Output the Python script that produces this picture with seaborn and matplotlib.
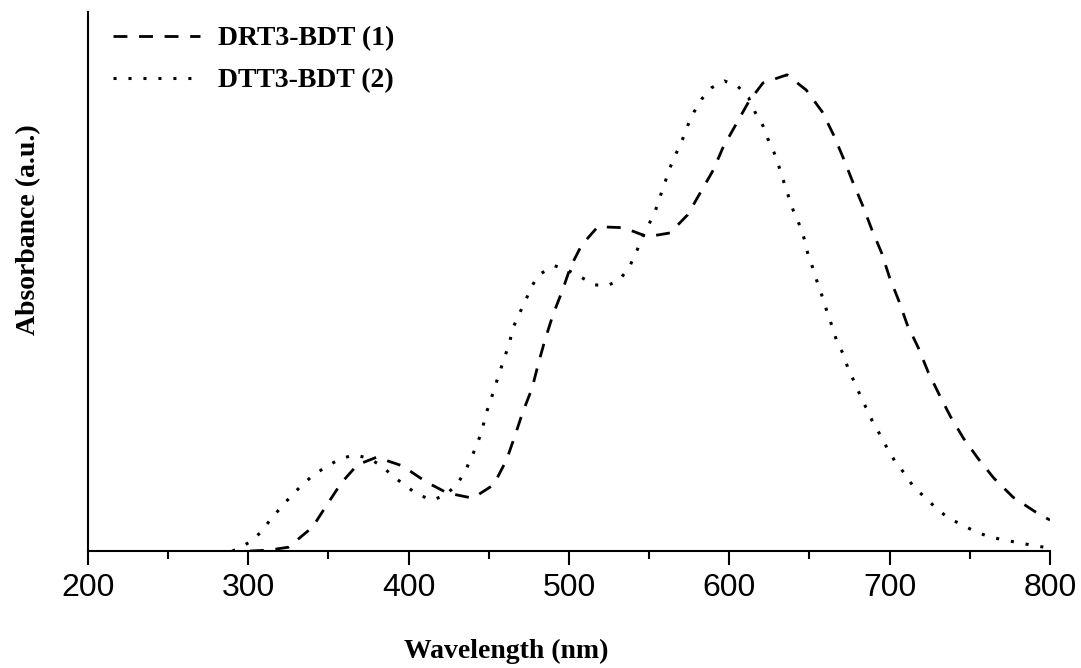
import numpy as np
import pandas as pd
import matplotlib
matplotlib.use("Agg")
import matplotlib.pyplot as plt
import seaborn as sns

# Wavelength (nm) and normalized absorbance
drt_nm = [301, 313, 325, 340, 349, 358, 368, 380, 396, 411, 424, 440, 453, 461,
          466, 471, 477, 481, 485, 490, 496, 501, 508, 518, 534, 549, 563, 574,
          590, 596, 604, 612, 621, 636, 648, 658, 665, 671, 677, 683, 689, 695,
          700, 706, 711, 718, 724, 731, 738, 746, 755, 765, 777, 791, 800]
drt_abs = [0.000, 0.002, 0.008, 0.050, 0.097, 0.143, 0.181, 0.197, 0.179, 0.145,
           0.122, 0.111, 0.139, 0.191, 0.239, 0.290, 0.342, 0.395, 0.443, 0.496,
           0.548, 0.597, 0.643, 0.681, 0.679, 0.660, 0.668, 0.706, 0.800, 0.847,
           0.895, 0.943, 0.983, 1.000, 0.968, 0.922, 0.874, 0.826, 0.775, 0.727,
           0.674, 0.626, 0.574, 0.523, 0.475, 0.426, 0.376, 0.328, 0.282, 0.237,
           0.195, 0.153, 0.113, 0.082, 0.065]

dtt_nm = [290, 293, 301, 308, 314, 320, 326, 333, 340, 348, 357, 366, 375, 383,
          390, 398, 406, 415, 423, 430, 435, 439, 443, 446, 448, 451, 454, 457,
          460, 463, 465, 469, 473, 477, 481, 491, 499, 507, 516, 524, 532, 538,
          542, 546, 550, 554, 563, 567, 571, 574, 578, 583, 589, 597, 605, 612,
          616, 621, 624, 628, 631, 634, 637, 640, 644, 647, 649, 652, 655, 658,
          661, 664, 667, 671, 674, 678, 682, 686, 690, 695, 699, 704, 710, 715,
          722, 729, 736, 745, 754, 763, 772, 781, 791, 800]
dtt_abs = [0.000, 0.004, 0.019, 0.040, 0.067, 0.090, 0.113, 0.137, 0.158, 0.176,
           0.193, 0.202, 0.195, 0.179, 0.158, 0.137, 0.118, 0.107, 0.118, 0.139,
           0.166, 0.195, 0.227, 0.256, 0.286, 0.315, 0.347, 0.378, 0.408, 0.439,
           0.468, 0.498, 0.527, 0.557, 0.580, 0.599, 0.590, 0.576, 0.559, 0.557,
           0.571, 0.599, 0.628, 0.660, 0.687, 0.716, 0.805, 0.836, 0.866, 0.893,
           0.922, 0.950, 0.973, 0.987, 0.977, 0.952, 0.922, 0.893, 0.866, 0.836,
           0.807, 0.775, 0.744, 0.714, 0.683, 0.653, 0.624, 0.595, 0.563, 0.534,
           0.502, 0.473, 0.441, 0.414, 0.384, 0.355, 0.324, 0.296, 0.267, 0.239,
           0.212, 0.185, 0.160, 0.134, 0.113, 0.090, 0.071, 0.055, 0.040, 0.029,
           0.023, 0.017, 0.011, 0.006]

series_labels = ["DRT3-BDT (1)", "DTT3-BDT (2)"]
x_ticks = [200, 300, 400, 500, 600, 700, 800]

df = pd.concat([
    pd.DataFrame({"nm": drt_nm, "abs": drt_abs, "series": series_labels[0]}),
    pd.DataFrame({"nm": dtt_nm, "abs": dtt_abs, "series": series_labels[1]}),
])

sns.set_style("ticks", rc={"text.color": "black", "axes.labelcolor": "black",
                           "xtick.color": "black", "ytick.color": "black",
                           "axes.edgecolor": "black"})
plt.rcParams["font.family"] = ["Liberation Sans", "DejaVu Sans"]

fig = plt.figure(figsize=(10.81, 6.68), dpi=100)
ax = fig.add_axes([0.0814, 0.1751, 0.8899, 0.807])

styles = {series_labels[0]: dict(ls=(0, (5.0, 4.2)), lw=2.0),
          series_labels[1]: dict(ls=(0, (1.0, 3.9)), lw=2.2)}
for lab in series_labels:
    sub = df[df["series"] == lab]
    sns.lineplot(data=sub, x="nm", y="abs", ax=ax, color="black",
                 linestyle=styles[lab]["ls"], linewidth=styles[lab]["lw"],
                 label=lab, sort=False, estimator=None)

ax.set_xlim(200, 800)
ax.set_ylim(0, 1.132)
ax.set_xticks(x_ticks)
ax.set_xticks(np.arange(250, 800, 100), minor=True)
ax.set_yticks([])
ax.tick_params(axis="x", which="major", length=10, width=1.5, direction="out",
               labelsize=23, pad=6, color="black", labelcolor="black")
ax.tick_params(axis="x", which="minor", length=5.5, width=1.5, direction="out",
               color="black")
for s in ["top", "right"]:
    ax.spines[s].set_visible(False)
for s in ["left", "bottom"]:
    ax.spines[s].set_linewidth(1.5)
    ax.spines[s].set_color("black")

lab_font = dict(family="Liberation Serif", weight="bold", size=20)
ax.set_xlabel("Wavelength (nm)", fontdict=lab_font, color="black")
ax.set_ylabel("Absorbance (a.u.)", fontdict=lab_font, color="black")
ax.xaxis.set_label_coords(0.4345, -0.162)
ax.yaxis.set_label_coords(-0.049, 0.596)

leg = ax.legend(loc="upper left", frameon=False, handlelength=3.13,
                handletextpad=0.65, labelspacing=0.6, borderaxespad=0,
                borderpad=0.5, bbox_to_anchor=(0.012, 1.0),
                prop=dict(family="Liberation Serif", weight="bold", size=20))
for t in leg.get_texts():
    t.set_color("black")

fig.savefig("out.png", dpi=100, facecolor="white")
